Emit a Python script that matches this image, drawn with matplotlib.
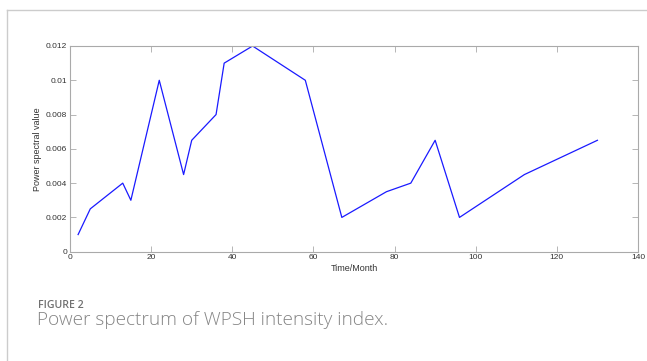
import matplotlib
matplotlib.use("Agg")
import matplotlib.pyplot as plt
from matplotlib.lines import Line2D

# power spectrum values read per period (months)
months = [2, 5, 13, 15, 22, 28, 30, 36, 38, 45, 58, 67, 78, 84, 90, 96, 112, 130]
power = [0.001, 0.0025, 0.004, 0.003, 0.010, 0.0045, 0.0065, 0.008, 0.011,
         0.012, 0.010, 0.002, 0.0035, 0.004, 0.0065, 0.002, 0.0045, 0.0065]

xticks = [0, 20, 40, 60, 80, 100, 120, 140]
yticks = [0, 0.002, 0.004, 0.006, 0.008, 0.01, 0.012]
ytick_labels = ["0", "0.002", "0.004", "0.006", "0.008", "0.01", "0.012"]

fig = plt.figure(figsize=(6.47, 3.61), dpi=100)
W, H = 647, 361

# panel frame lines (left and top)
fig.add_artist(Line2D([7 / W, 7 / W], [0, 1 - 9.5 / H], color="#cccccc", lw=1.0))
fig.add_artist(Line2D([7 / W, 1.01], [1 - 9.5 / H, 1 - 9.5 / H], color="#cccccc", lw=1.0))

ax = fig.add_axes([70 / W, 1 - 251.7 / H, (638 - 70) / W, (251.7 - 46) / H])
ax.plot(months, power, color="#1a1aff", lw=0.9)

ax.set_xlim(0, 140)
ax.set_ylim(0, 0.012)
ax.set_xticks(xticks)
ax.set_yticks(yticks)
ax.set_yticklabels(ytick_labels)

for s in ax.spines.values():
    s.set_color("#aaaaaa")
    s.set_linewidth(0.8)
ax.tick_params(direction="in", length=4, width=0.6, color="#aaaaaa",
               labelsize=6, labelcolor="#333333", top=True, right=True, pad=2)
for lab in ax.get_xticklabels() + ax.get_yticklabels():
    lab.set_family("Liberation Sans")

ax.set_xlabel("Time/Month", fontsize=6.5, family="Liberation Sans", color="#333333", labelpad=2)
ax.set_ylabel("Power spectral value", fontsize=6.5, family="Liberation Sans", color="#333333", labelpad=3)

fig.text(38 / W, 1 - 307.5 / H, "FIGURE 2", fontsize=7.6, family="Open Sans",
         weight="semibold", color="#707070", va="baseline")
fig.text(37 / W, 1 - 325 / H, "Power spectrum of WPSH intensity index.", fontsize=13.7,
         family="Open Sans", weight="light", color="#858585", va="baseline")

fig.savefig("out.png", dpi=100)
